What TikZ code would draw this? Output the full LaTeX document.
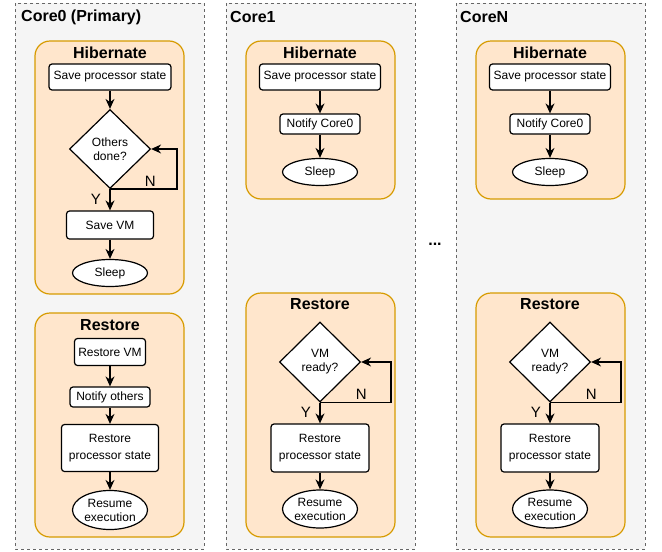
\documentclass[tikz,border=0pt]{standalone}
\usepackage{fontspec}
\setmainfont{Liberation Sans}
\usetikzlibrary{shapes.geometric,arrows.meta}
\definecolor{coregray}{HTML}{F5F5F5}
\definecolor{coreline}{HTML}{666666}
\definecolor{phasefill}{HTML}{FFE6CC}
\definecolor{phaseline}{HTML}{D79B00}
\tikzset{
  corebox/.style={draw=coreline, fill=coregray, dash pattern=on 3pt off 3pt, line width=1pt},
  phasebox/.style={draw=phaseline, fill=phasefill, rounded corners=15pt, line width=1.2pt},
  title/.style={font=\fontsize{16}{19}\selectfont\bfseries, inner sep=0},
  stepbox/.style={draw, fill=white, rounded corners=3pt, align=center, inner sep=0,
    line width=1.2pt, font=\fontsize{12}{14}\selectfont},
  endbox/.style={stepbox, ellipse},
  choice/.style={stepbox, diamond, sharp corners},
  flow/.style={-{Stealth[length=10pt,width=9pt]}, line width=1.3pt},
  yn/.style={font=\fontsize{15}{17}\selectfont, inner sep=1.5pt}
}

\begin{document}
\begin{tikzpicture}[x=1pt, y=-1pt]
\useasboundingbox (0,0) rectangle (662,552);
% core0
\draw[corebox] (15,3) rectangle (204,549);
\node[title, anchor=west] (core0) at (21,17) {Core0 (Primary)};
% core0 hibernate
\draw[phasebox] (35,41) rectangle (184,294);
\node[title] (hib0) at (110,53) {Hibernate};
\node[stepbox, minimum width=122pt, minimum height=26pt] (save0) at (110,77) {Save processor state};
\node[choice, minimum width=81pt, minimum height=79pt] (wait0) at (110,149) {Others\\done?};
\node[stepbox, minimum width=87pt, minimum height=28pt] (savevm) at (110,225) {Save VM};
\node[endbox, minimum width=75pt, minimum height=27pt] (sleep0) at (110,273) {Sleep};
\draw[flow] (save0) -- (wait0);
\draw[flow] (wait0.south) -- node[yn, pos=.48, left=7pt] (y0) {Y} (savevm);
\draw[flow] (wait0.south) -- node[yn, pos=.6, above] (n0) {N} ++(67,0) |- (wait0.east);
\draw[flow] (savevm) -- (sleep0);
% core0 restore
\draw[phasebox] (35,313) rectangle (184,537);
\node[title] (res0) at (110,325) {Restore};
\node[stepbox, minimum width=71pt, minimum height=27pt] (loadvm) at (110,352) {Restore VM};
\node[stepbox, minimum width=80pt, minimum height=20pt] (notify0) at (110,397) {Notify others};
\node[stepbox, minimum width=97pt, minimum height=47pt] (load0) at (110,448) {Restore\\[3pt]processor state};
\node[endbox, minimum width=75pt, minimum height=39pt] (resume0) at (110,510) {Resume\\execution};
\draw[flow] (loadvm) -- (notify0);
\draw[flow] (notify0) -- (load0);
\draw[flow] (load0) -- (resume0);
% other cores
\foreach \cx/\cid in {320/1,550/N}{
  \draw[corebox] (\cx-94,3) rectangle (\cx+95,549);
  \node[title, anchor=west] (core\cid) at (\cx-90,17) {Core\cid};
  % hibernate
  \draw[phasebox] (\cx-74,41) rectangle (\cx+75,199);
  \node[title] (hib\cid) at (\cx,53) {Hibernate};
  \node[stepbox, minimum width=121pt, minimum height=26pt] (save\cid) at (\cx,77) {Save processor state};
  \node[stepbox, minimum width=80pt, minimum height=20pt] (notify\cid) at (\cx,124) {Notify Core0};
  \node[endbox, minimum width=75pt, minimum height=27pt] (sleep\cid) at (\cx,172) {Sleep};
  \draw[flow] (save\cid) -- (notify\cid);
  \draw[flow] (notify\cid) -- (sleep\cid);
  % restore
  \draw[phasebox] (\cx-74,293) rectangle (\cx+75,537);
  \node[title] (res\cid) at (\cx,304) {Restore};
  \node[choice, minimum width=81pt, minimum height=80pt] (wait\cid) at (\cx,362) {VM\\ready?};
  \node[stepbox, minimum width=98pt, minimum height=48pt] (load\cid) at (\cx,448) {Restore\\[3pt]processor state};
  \node[endbox, minimum width=75pt, minimum height=38pt] (resume\cid) at (\cx,509) {Resume\\execution};
  \draw[flow] (wait\cid.south) -- node[yn, pos=.45, left=7pt] (y\cid) {Y} (load\cid);
  \draw[flow] (wait\cid.south) -- node[yn, pos=.58, above=1pt] (n\cid) {N} ++(71,0) |- (wait\cid.east);
  \draw[flow] (load\cid) -- (resume\cid);
}
\node[title] (dots) at (435,244) {...};
\end{tikzpicture}
\end{document}
